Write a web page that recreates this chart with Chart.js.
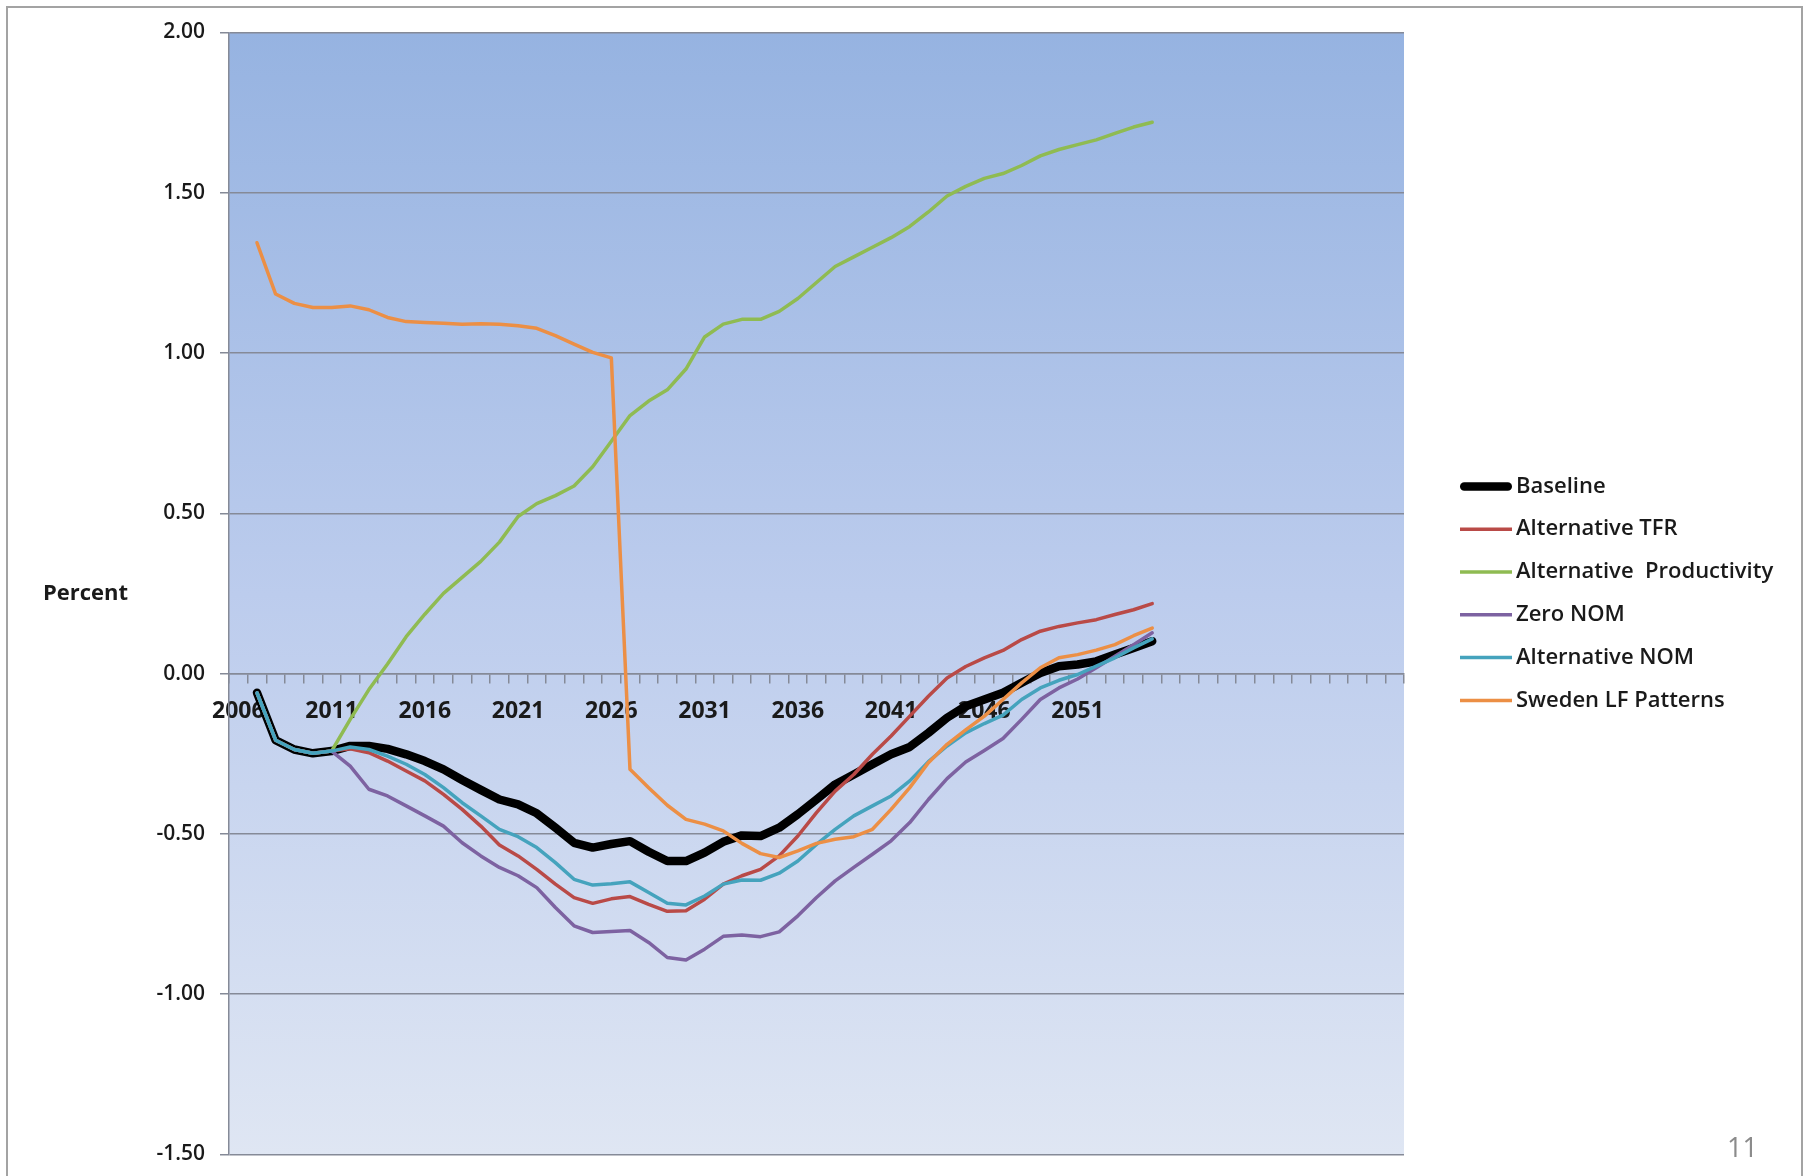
<!DOCTYPE html>
<html>
<head>
<meta charset="utf-8">
<title>Percent</title>
<script src="https://cdn.jsdelivr.net/npm/chart.js@4.4.1/dist/chart.umd.min.js"></script>
<style>
    html, body { margin: 0; padding: 0; background: #ffffff; }
    #wrap { width: 1810px; height: 1176px; position: relative; }
</style>
</head>
<body>
<div id="wrap"><canvas id="scenarioChart"></canvas></div>
<script>
// Category axis: one slot per year, blank slots keep the axis running past the data
const years = [
    '2006', '2007', '2008', '2009', '2010', '2011', '2012', '2013', '2014', '2015',
    '2016', '2017', '2018', '2019', '2020', '2021', '2022', '2023', '2024', '2025',
    '2026', '2027', '2028', '2029', '2030', '2031', '2032', '2033', '2034', '2035',
    '2036', '2037', '2038', '2039', '2040', '2041', '2042', '2043', '2044', '2045',
    '2046', '2047', '2048', '2049', '2050', '2051', '2052', '2053', '2054', '2055',
    '', '', '', '', '', '', '', '', '', '', '', '', ''
];

const yTicks = [-1.5, -1.0, -0.5, 0, 0.5, 1.0, 1.5, 2.0];

const baseline = [
    null, -0.060, -0.208, -0.237, -0.249, -0.242, -0.226, -0.226, -0.235, -0.252,
    -0.273, -0.299, -0.332, -0.363, -0.393, -0.408, -0.436, -0.481, -0.528, -0.543,
    -0.532, -0.523, -0.556, -0.585, -0.585, -0.559, -0.525, -0.505, -0.507, -0.481,
    -0.439, -0.393, -0.346, -0.315, -0.283, -0.252, -0.229, -0.185, -0.138, -0.102,
    -0.081, -0.060, -0.029, 0.002, 0.023, 0.028, 0.038, 0.059, 0.080, 0.101
];

const altTFR = [
    null, -0.060, -0.208, -0.237, -0.249, -0.242, -0.235, -0.247, -0.273, -0.304,
    -0.335, -0.377, -0.424, -0.476, -0.535, -0.569, -0.611, -0.657, -0.699, -0.717,
    -0.703, -0.696, -0.720, -0.742, -0.740, -0.704, -0.657, -0.631, -0.611, -0.569,
    -0.507, -0.434, -0.367, -0.315, -0.252, -0.195, -0.133, -0.071, -0.014, 0.022,
    0.049, 0.072, 0.106, 0.132, 0.147, 0.158, 0.168, 0.184, 0.199, 0.218
];

const altProductivity = [
    null, -0.060, -0.208, -0.237, -0.249, -0.242, -0.143, -0.050, 0.030, 0.115,
    0.185, 0.250, 0.300, 0.350, 0.410, 0.490, 0.530, 0.555, 0.585, 0.645,
    0.725, 0.805, 0.850, 0.885, 0.950, 1.050, 1.090, 1.105, 1.105, 1.130,
    1.170, 1.220, 1.270, 1.300, 1.330, 1.360, 1.395, 1.440, 1.490, 1.520,
    1.545, 1.560, 1.585, 1.615, 1.635, 1.650, 1.665, 1.685, 1.705, 1.720
];

const zeroNOM = [
    null, -0.060, -0.208, -0.237, -0.249, -0.242, -0.289, -0.361, -0.382, -0.413,
    -0.444, -0.476, -0.528, -0.569, -0.605, -0.631, -0.668, -0.730, -0.787, -0.808,
    -0.805, -0.802, -0.839, -0.886, -0.894, -0.860, -0.820, -0.816, -0.821, -0.806,
    -0.756, -0.699, -0.647, -0.605, -0.564, -0.522, -0.465, -0.393, -0.328, -0.276,
    -0.240, -0.203, -0.143, -0.081, -0.045, -0.017, 0.018, 0.054, 0.090, 0.127
];

const altNOM = [
    null, -0.060, -0.208, -0.237, -0.249, -0.242, -0.229, -0.237, -0.258, -0.283,
    -0.315, -0.356, -0.403, -0.444, -0.486, -0.509, -0.543, -0.590, -0.642, -0.660,
    -0.656, -0.650, -0.683, -0.717, -0.722, -0.694, -0.657, -0.644, -0.645, -0.623,
    -0.585, -0.533, -0.486, -0.444, -0.413, -0.382, -0.335, -0.275, -0.226, -0.185,
    -0.156, -0.130, -0.081, -0.045, -0.021, -0.003, 0.023, 0.049, 0.080, 0.108
];

const swedenLF = [
    null, 1.344, 1.184, 1.155, 1.142, 1.142, 1.147, 1.135, 1.111, 1.098,
    1.095, 1.093, 1.090, 1.091, 1.090, 1.085, 1.077, 1.054, 1.028, 1.002,
    0.985, -0.299, -0.356, -0.411, -0.455, -0.470, -0.491, -0.530, -0.562, -0.574,
    -0.553, -0.530, -0.517, -0.509, -0.486, -0.424, -0.356, -0.278, -0.221, -0.176,
    -0.133, -0.081, -0.029, 0.018, 0.049, 0.059, 0.073, 0.090, 0.118, 0.142
];

const FONT = "'Open Sans', 'Liberation Sans', sans-serif";
const gridColor = '#858a97';

// Slide frame, white page and the blue gradient behind the plot
const plotBackground = {
    id: 'plotBackground',
    beforeDraw(chart) {
        const { ctx, chartArea: a, width, height } = chart;
        ctx.save();
        ctx.fillStyle = '#ffffff';
        ctx.fillRect(0, 0, width, height);
        ctx.strokeStyle = '#a3a3a3';
        ctx.lineWidth = 2;
        ctx.strokeRect(7, 7, width - 15, height + 20);
        const g = ctx.createLinearGradient(0, a.top, 0, a.bottom);
        g.addColorStop(0, '#96b3e1');
        g.addColorStop(0.5, '#bccced');
        g.addColorStop(1, '#dfe6f3');
        ctx.fillStyle = g;
        ctx.fillRect(a.left, a.top, a.right - a.left, a.bottom - a.top);
        ctx.restore();
    }
};

// Axis caption, page number and the line legend on the right
const slideText = {
    id: 'slideText',
    afterDraw(chart) {
        const { ctx, chartArea: a } = chart;
        ctx.save();
        ctx.fillStyle = '#1a1a1a';
        ctx.font = `bold 22px ${FONT}`;
        ctx.textAlign = 'left';
        ctx.textBaseline = 'middle';
        ctx.fillText('Percent', 43, (a.top + a.bottom) / 2);

        ctx.fillStyle = '#8b8b8b';
        ctx.font = `27px ${FONT}`;
        ctx.textBaseline = 'alphabetic';
        ctx.fillText('11', 1727, 1157);

        const rowGap = 42.8;
        const sets = chart.data.datasets;
        const x0 = a.right + 56;
        let y = (a.top + a.bottom) / 2 - rowGap * (sets.length - 1) / 2;
        ctx.font = `600 22px ${FONT}`;
        ctx.textBaseline = 'middle';
        sets.forEach(ds => {
            ctx.strokeStyle = ds.borderColor;
            ctx.lineWidth = ds.borderWidth;
            ctx.lineCap = ds.borderWidth > 5 ? 'round' : 'butt';
            ctx.beginPath();
            const inset = ds.borderWidth > 5 ? ds.borderWidth / 2 : 0;
            ctx.moveTo(x0 + inset, y);
            ctx.lineTo(x0 + 52 - inset, y);
            ctx.stroke();
            ctx.fillStyle = '#1a1a1a';
            ctx.fillText(ds.label, x0 + 56, y);
            y += rowGap;
        });
        ctx.restore();
    }
};

function series(label, data, color, width, order) {
    return {
        label: label,
        data: data,
        borderColor: color,
        backgroundColor: color,
        borderWidth: width,
        pointRadius: 0,
        pointHoverRadius: 0,
        tension: 0,
        borderJoinStyle: 'round',
        borderCapStyle: 'round',
        fill: false,
        order: order
    };
}

new Chart(document.getElementById('scenarioChart'), {
    type: 'line',
    data: {
        labels: years,
        datasets: [
            series('Baseline', baseline, '#000000', 8.5, 6),
            series('Alternative TFR', altTFR, '#b94a47', 3.5, 5),
            series('Alternative  Productivity', altProductivity, '#8fbb52', 3.5, 4),
            series('Zero NOM', zeroNOM, '#7d62a1', 3.5, 3),
            series('Alternative NOM', altNOM, '#45a3bd', 3.5, 2),
            series('Sweden LF Patterns', swedenLF, '#ec8f45', 3.5, 1)
        ]
    },
    options: {
        responsive: true,
        maintainAspectRatio: false,
        animation: false,
        layout: {
            padding: { left: 0, right: 406, top: 32.5, bottom: 21.7 }
        },
        plugins: {
            legend: { display: false },
            tooltip: { enabled: false }
        },
        scales: {
            x: {
                type: 'category',
                position: { y: 0 },
                offset: true,
                grid: {
                    offset: true,
                    drawOnChartArea: false,
                    drawTicks: true,
                    tickLength: 9,
                    color: gridColor,
                    lineWidth: 1.5
                },
                border: { display: true, color: gridColor, width: 1.5 },
                ticks: {
                    autoSkip: false,
                    maxRotation: 0,
                    padding: 15,
                    color: '#1a1a1a',
                    font: { family: FONT, size: 23, weight: 'bold' },
                    callback: function (value, index) {
                        return index % 5 === 0 ? this.getLabelForValue(value) : '';
                    }
                }
            },
            y: {
                min: yTicks[0],
                max: yTicks[yTicks.length - 1],
                afterFit: (scale) => {
                    // fixed gutter for the value labels; the layout padding handles top and bottom
                    scale.width = 229;
                    scale.paddingTop = 0;
                    scale.paddingBottom = 0;
                },
                afterBuildTicks: (scale) => {
                    scale.ticks = yTicks.map(v => ({ value: v }));
                },
                grid: {
                    color: gridColor,
                    lineWidth: 1.5,
                    drawTicks: true,
                    tickLength: 9
                },
                border: { display: true, color: gridColor, width: 1.5 },
                ticks: {
                    padding: 15,
                    color: '#1a1a1a',
                    font: { family: FONT, size: 21, weight: '600' },
                    callback: (v) => Number(v).toFixed(2)
                }
            }
        }
    },
    plugins: [plotBackground, slideText]
});
</script>
</body>
</html>
